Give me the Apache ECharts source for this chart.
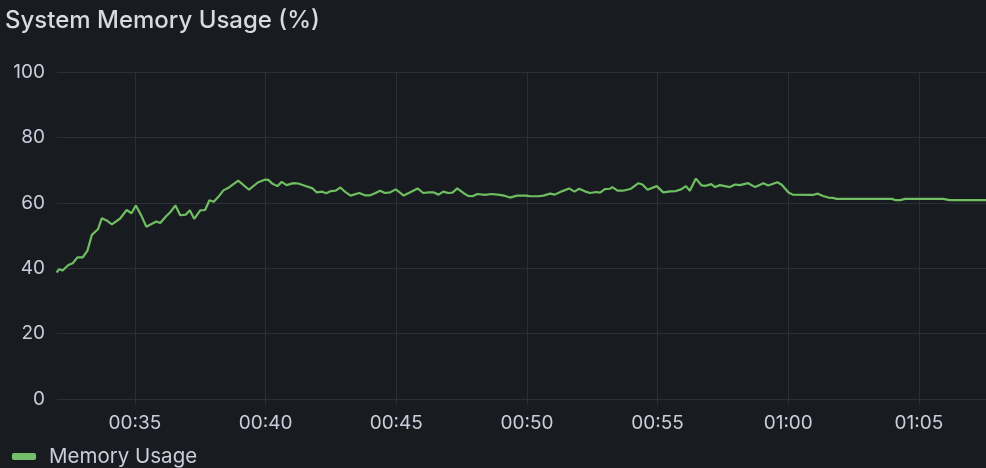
<!DOCTYPE html>
<html>
<head>
<meta charset="utf-8">
<script src="https://cdn.jsdelivr.net/npm/echarts@6/dist/echarts.min.js"></script>
<style>
html,body{margin:0;padding:0;background:#181b1f;}
#chart{width:986px;height:468px;}
</style>
</head>
<body>
<div id="chart"></div>
<script>
const title = "System Memory Usage (%)";
const seriesName = "Memory Usage";
const axisMin = "00:32:01";
const axisMax = "01:07:34";
const xTickLabels = ["00:35","00:40","00:45","00:50","00:55","01:00","01:05"];
const yTicks = [0, 20, 40, 60, 80, 100];

const times = [
"00:32:00","00:32:06","00:32:14","00:32:27","00:32:37","00:32:48","00:33:00","00:33:11","00:33:21","00:33:35",
"00:33:44","00:33:55","00:34:07","00:34:26","00:34:41","00:34:52","00:35:02","00:35:15","00:35:26","00:35:49",
"00:35:58","00:36:11","00:36:21","00:36:33","00:36:44","00:36:57","00:37:06","00:37:16","00:37:30","00:37:41",
"00:37:51","00:38:01","00:38:12","00:38:23","00:38:36","00:38:57","00:39:22","00:39:42","00:39:59","00:40:06",
"00:40:16","00:40:27","00:40:37","00:40:48","00:41:04","00:41:15","00:41:30","00:41:48","00:41:57","00:42:10",
"00:42:19","00:42:30","00:42:41","00:42:52","00:43:02","00:43:15","00:43:35","00:43:48","00:44:00","00:44:11",
"00:44:23","00:44:34","00:44:46","00:44:59","00:45:17","00:45:32","00:45:49","00:46:02","00:46:14","00:46:25",
"00:46:37","00:46:48","00:46:59","00:47:09","00:47:20","00:47:34","00:47:45","00:47:55","00:48:06","00:48:24",
"00:48:38","00:48:58","00:49:10","00:49:21","00:49:37","00:49:58","00:50:07","00:50:26","00:50:38","00:50:53",
"00:51:04","00:51:20","00:51:37","00:51:49","00:52:00","00:52:13","00:52:25","00:52:39","00:52:48","00:52:59",
"00:53:11","00:53:16","00:53:28","00:53:41","00:53:59","00:54:16","00:54:25","00:54:37","00:54:58","00:55:13",
"00:55:29","00:55:42","00:55:54","00:56:05","00:56:14","00:56:28","00:56:41","00:56:51","00:57:03","00:57:12",
"00:57:23","00:57:46","00:57:58","00:58:09","00:58:28","00:58:44","00:59:03","00:59:14","00:59:35","00:59:45",
"01:00:00","01:00:10","01:00:56","01:01:08","01:01:20","01:01:32","01:01:42","01:01:51","01:03:58","01:04:07",
"01:04:17","01:04:28","01:05:56","01:06:10","01:07:34"
];
const values = [
38.7,39.7,39.3,41.0,41.5,43.3,43.3,45.4,50.2,51.9,
55.3,54.6,53.4,55.2,57.8,56.8,59.2,56.0,52.7,54.3,
53.8,55.8,57.1,59.2,56.2,56.4,57.7,55.1,57.7,57.8,
60.8,60.3,61.9,63.8,64.7,66.8,64.0,66.2,67.1,67.0,
65.8,65.1,66.4,65.4,66.0,65.9,65.2,64.4,63.2,63.4,
62.9,63.6,63.7,64.7,63.4,62.2,63.0,62.3,62.3,62.9,
63.7,63.0,63.2,64.1,62.2,63.2,64.4,63.0,63.2,63.2,
62.5,63.4,63.0,63.1,64.4,63.0,62.1,62.0,62.7,62.4,
62.7,62.4,62.1,61.6,62.2,62.2,62.0,62.0,62.2,62.8,
62.5,63.5,64.4,63.4,64.3,63.5,63.0,63.3,63.1,64.2,
64.3,64.8,63.7,63.7,64.3,66.0,65.6,64.0,65.1,63.2,
63.5,63.6,64.1,65.1,63.7,67.4,65.3,65.2,65.7,64.8,
65.4,64.8,65.6,65.4,66.0,64.8,66.0,65.3,66.3,65.5,
63.2,62.5,62.4,62.8,62.1,61.6,61.5,61.2,61.2,60.8,
60.8,61.2,61.2,60.8,60.8
];

// seconds since midnight
function sec(t){ const p = t.split(':').map(Number); return p[0]*3600 + p[1]*60 + (p[2]||0); }
function fmt(s){ const h = Math.floor(s/3600), m = Math.floor((s%3600)/60); return String(h).padStart(2,'0') + ':' + String(m).padStart(2,'0'); }
const data = times.map((t,i)=>[sec(t), values[i]]);
const xTickValues = xTickLabels.map(sec);

const chart = echarts.init(document.getElementById('chart'), null, {renderer:'canvas'});
const textColor = '#ccccdc';
const gridColor = '#2c2f35';
chart.setOption({
  backgroundColor: '#181b1f',
  animation: false,
  textStyle: {fontFamily: 'Inter'},
  title: {
    text: title, left: 0, top: 4,
    textStyle: {color: '#d8d9e1', fontSize: 24, fontWeight: 500, fontFamily: 'Inter'}
  },
  legend: {
    left: 7, bottom: -4,
    icon: 'roundRect', itemWidth: 24, itemHeight: 7, itemGap: 14,
    textStyle: {color: textColor, fontSize: 20.5, fontFamily: 'Inter', padding:[0,0,0,8]},
    data: [seriesName]
  },
  grid: {left: 57, right: 0, top: 72, bottom: 69, containLabel: false},
  xAxis: {
    type: 'value',
    min: sec(axisMin), max: sec(axisMax),
    axisLine: {show: false},
    axisTick: {show: true, length: 6, lineStyle: {color: gridColor}, customValues: xTickValues},
    splitLine: {show: true, lineStyle: {color: gridColor, width: 1}},
    axisLabel: {
      color: textColor, fontSize: 19, fontFamily: 'Inter', margin: 15,
      customValues: xTickValues,
      formatter: fmt
    }
  },
  yAxis: {
    type: 'value', min: yTicks[0], max: yTicks[yTicks.length-1], interval: 20,
    axisLine: {show: false}, axisTick: {show: false},
    splitLine: {show: true, lineStyle: {color: gridColor, width: 1}},
    axisLabel: {color: textColor, fontSize: 19, fontFamily: 'Inter', margin: 12}
  },
  series: [{
    name: seriesName, type: 'line', data: data,
    showSymbol: false, symbol: 'none',
    lineStyle: {color: '#6fbf62', width: 2.2},
    itemStyle: {color: '#73bf69'}
  }]
});
</script>
</body>
</html>
